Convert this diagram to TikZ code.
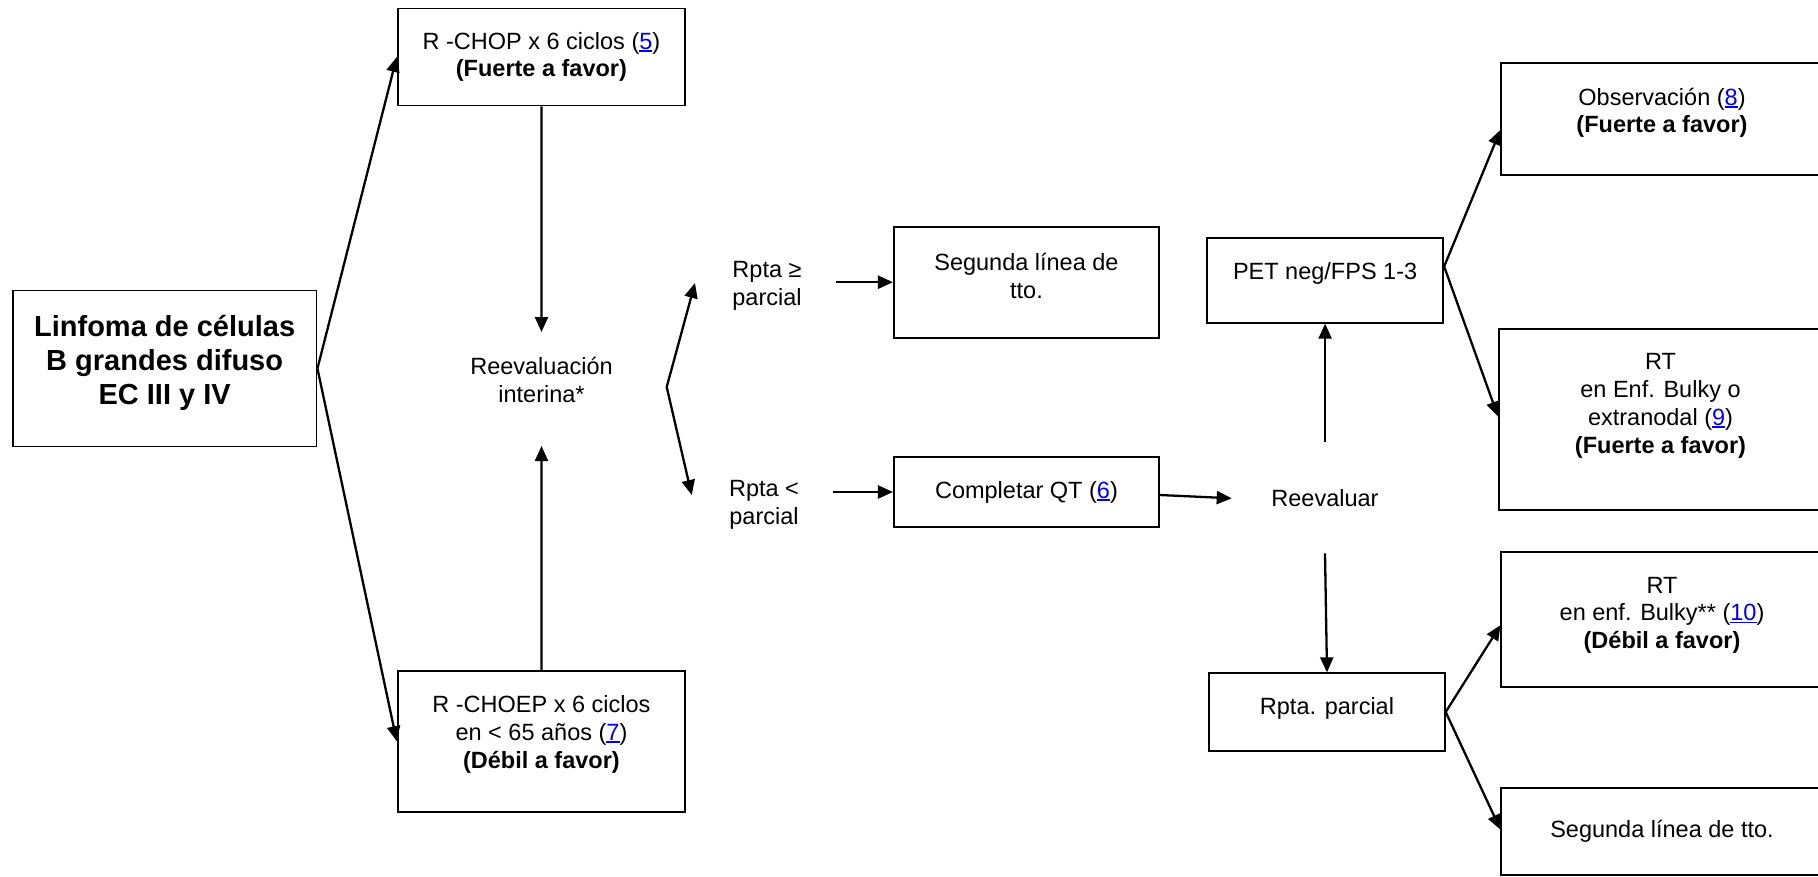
\documentclass[tikz,border=0pt]{standalone}
\usepackage{fontspec}
\setmainfont{Liberation Sans}
\usetikzlibrary{arrows.meta}
\definecolor{linkblue}{RGB}{0,0,238}
% blue, underlined reference number
\newcommand\lnk[1]{\textcolor{linkblue}{\setbox0\hbox{#1}\rlap{\rule[-2.6pt]{\wd0}{1.5pt}}\box0}}
\newcommand\txtfont{\fontsize{23.5}{27.8}\selectfont}
\newcommand\bigfont{\fontsize{29}{34}\selectfont\bfseries}

\begin{document}
\begin{tikzpicture}[x=1pt,y=-1pt,
  box/.style={draw, line width=1.9pt, inner sep=0pt, align=center, font=\txtfont},
  lbl/.style={align=center, font=\txtfont, inner sep=0pt},
  arr/.style={line width=2.3pt, -{Triangle[length=15pt,width=13pt]}}]
\useasboundingbox (0,0) rectangle (1818,876);
\clip (0,0) rectangle (1818,876);

% ---- boxes ----
\node[box, minimum width=303.7pt, minimum height=156pt,
      label={[lbl, font=\bigfont, yshift=6pt]center:{Linfoma de células\\B grandes difuso\\EC III y IV}}]
      (main) at (164.65,368.5) {};
\node[box, minimum width=287.5pt, minimum height=97pt]
      (rchop) at (541.45,57) {R -CHOP x 6 ciclos (\lnk{5})\\\textbf{(Fuerte a favor)}};
\node[box, minimum width=287.5pt, minimum height=141pt,
      label={[lbl, yshift=7pt]center:{R -CHOEP x 6 ciclos\\en < 65 años (\lnk{7})\\\textbf{(Débil a favor)}}}]
      (rchoep) at (541.45,741.2) {};
\node[box, minimum width=265.1pt, minimum height=111pt,
      label={[lbl, yshift=6pt]center:{Segunda línea de\\tto.}}]
      (seg1) at (1026.45,282.2) {};
\node[box, minimum width=265.1pt, minimum height=69.4pt]
      (comp) at (1026.45,492) {Completar QT (\lnk{6})};
\node[box, minimum width=236.2pt, minimum height=84.4pt,
      label={[lbl, yshift=7.5pt]center:{PET neg/FPS 1-3}}]
      (pet) at (1325.1,280.5) {};
\node[box, minimum width=235.5pt, minimum height=77.4pt,
      label={[lbl, yshift=4pt]center:{Rpta. parcial}}]
      (rpp) at (1327,712) {};
\node[box, minimum width=321.2pt, minimum height=112.3pt,
      label={[lbl, yshift=6pt]center:{Observación (\lnk{8})\\\textbf{(Fuerte a favor)}}}]
      (obs) at (1662,118.85) {};
\node[box, minimum width=323pt, minimum height=180.7pt,
      label={[lbl, yshift=14pt]center:{RT\\en Enf. Bulky o\\extranodal (\lnk{9})\\\textbf{(Fuerte a favor)}}}]
      (rt1) at (1660.5,419.65) {};
\node[box, minimum width=321.2pt, minimum height=135pt,
      label={[lbl, yshift=4pt]center:{RT\\en enf. Bulky** (\lnk{10})\\\textbf{(Débil a favor)}}}]
      (rt2) at (1662,619.2) {};
\node[box, minimum width=321.2pt, minimum height=86.7pt]
      (seg2) at (1662,831.65) {Segunda línea de tto.};

% ---- free labels ----
\node[lbl] (reeval) at (541.5,380) {Reevaluación\\interina*};
\node[lbl] (rge) at (767,286) {Rpta ≥\\parcial};
\node[lbl] (rlt) at (764,505) {Rpta <\\parcial};
\node[lbl] (reev) at (1325,498) {Reevaluar};

% ---- connector end points ----
\coordinate (ri-top) at (541.5,332);
\coordinate (ri-bot) at (541.5,446);
\coordinate (split) at (666.7,387);
\coordinate (up-tip) at (695,283);
\coordinate (dn-tip) at (691.7,495);
\coordinate (rge-out) at (835.8,282.2);
\coordinate (rlt-out) at (833,492);
\coordinate (reev-in) at (1231.7,498.3);
\coordinate (reev-up) at (1325.1,441.7);
\coordinate (reev-dn) at (1325,553.3);

% ---- connectors ----
\draw[arr] (main.east) -- (rchop.west);
\draw[arr] (main.east) -- (rchoep.west);
\draw[arr] (rchop.south) -- (ri-top);
\draw[arr] (rchoep.north) -- (ri-bot);
\draw[arr] (split) -- (up-tip);
\draw[arr] (split) -- (dn-tip);
\draw[arr] (rge-out) -- (seg1.west);
\draw[arr] (rlt-out) -- (comp.west);
\draw[arr] ([yshift=-3pt]comp.east) -- (reev-in);
\draw[arr] (reev-up) -- (pet.south);
\draw[arr] (reev-dn) -- (rpp.north);
\draw[arr] ([yshift=14pt]pet.east) -- ([yshift=-11pt]obs.west);
\draw[arr] ([yshift=14pt]pet.east) -- ([yshift=3pt]rt1.west);
\draw[arr] (rpp.east) -- ([yshift=-6pt]rt2.west);
\draw[arr] (rpp.east) -- ([yshift=2pt]seg2.west);
\end{tikzpicture}
\end{document}
